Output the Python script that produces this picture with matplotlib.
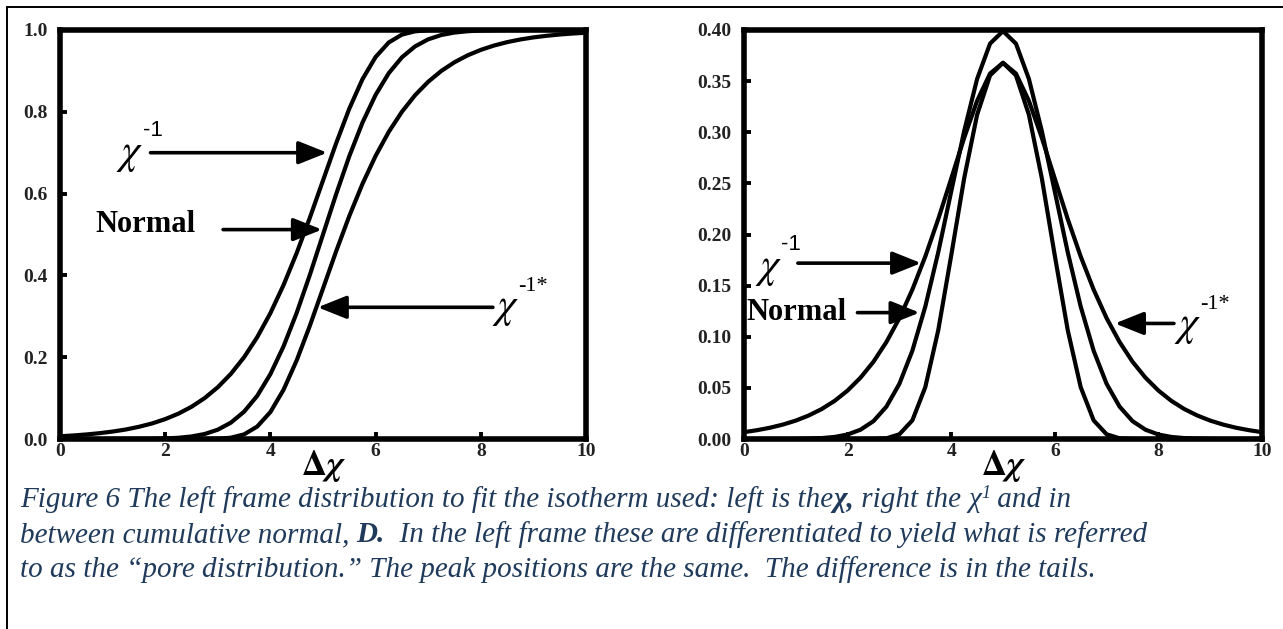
import matplotlib
matplotlib.use("Agg")
import matplotlib.pyplot as plt
from matplotlib.lines import Line2D

plt.rcParams["mathtext.fontset"] = "stix"

# ---------------- data ----------------
x_grid = [0, 0.25, 0.5, 0.75, 1, 1.25, 1.5, 1.75, 2, 2.25, 2.5, 2.75, 3, 3.25, 3.5,
          3.75, 4, 4.25, 4.5, 4.75, 5, 5.25, 5.5, 5.75, 6, 6.25, 6.5, 6.75, 7, 7.25,
          7.5, 7.75, 8, 8.25, 8.5, 8.75, 9, 9.25, 9.5, 9.75, 10]

# left frame: cumulative curves
cdf_chi_inv = [0.0067, 0.0086, 0.0111, 0.0142, 0.0182, 0.0232, 0.0298, 0.0380, 0.0486,
               0.0619, 0.0788, 0.1000, 0.1266, 0.1595, 0.2000, 0.2491, 0.3078, 0.3765,
               0.4548, 0.5410, 0.6321, 0.7231, 0.8077, 0.8796, 0.9340, 0.9695, 0.9887,
               0.9968, 0.9994, 0.9999, 1.0, 1.0, 1.0, 1.0, 1.0, 1.0, 1.0, 1.0, 1.0, 1.0, 1.0]
cdf_normal = [0.0, 0.0, 0.0, 0.0, 0.0, 0.0001, 0.0002, 0.0006, 0.0013, 0.0030, 0.0062,
              0.0122, 0.0228, 0.0401, 0.0668, 0.1056, 0.1587, 0.2266, 0.3085, 0.4013,
              0.5, 0.5987, 0.6915, 0.7734, 0.8413, 0.8944, 0.9332, 0.9599, 0.9772,
              0.9878, 0.9938, 0.9970, 0.9987, 0.9994, 0.9998, 0.9999, 1.0, 1.0, 1.0, 1.0, 1.0]
cdf_chi_inv_star = [0.0, 0.0, 0.0, 0.0, 0.0, 0.0, 0.0, 0.0, 0.0, 0.0, 0.0, 0.0001,
                    0.0006, 0.0032, 0.0113, 0.0305, 0.0660, 0.1204, 0.1923, 0.2769,
                    0.3679, 0.4590, 0.5452, 0.6236, 0.6922, 0.7509, 0.8000, 0.8405,
                    0.8734, 0.9000, 0.9212, 0.9381, 0.9514, 0.9620, 0.9703, 0.9768,
                    0.9819, 0.9858, 0.9890, 0.9914, 0.9933]

# right frame: distributions
pdf_chi_inv = [0.0067, 0.0086, 0.0110, 0.0141, 0.0180, 0.0230, 0.0293, 0.0373, 0.0474,
               0.0600, 0.0756, 0.0949, 0.1182, 0.1461, 0.1785, 0.2151, 0.2546, 0.2945,
               0.3307, 0.3574, 0.3679, 0.3556, 0.3171, 0.2549, 0.1794, 0.1064, 0.0507,
               0.0182, 0.0046, 0.0007, 0.0001, 0.0, 0.0, 0.0, 0.0, 0.0, 0.0, 0.0, 0.0, 0.0, 0.0]
pdf_normal = [0.0, 0.0, 0.0, 0.0, 0.0001, 0.0004, 0.0009, 0.0020, 0.0044, 0.0091, 0.0175,
              0.0317, 0.0540, 0.0863, 0.1295, 0.1826, 0.2420, 0.3011, 0.3521, 0.3867,
              0.3989, 0.3867, 0.3521, 0.3011, 0.2420, 0.1826, 0.1295, 0.0863, 0.0540,
              0.0317, 0.0175, 0.0091, 0.0044, 0.0020, 0.0009, 0.0004, 0.0001, 0.0, 0.0, 0.0, 0.0]
pdf_chi_inv_star = [0.0, 0.0, 0.0, 0.0, 0.0, 0.0, 0.0, 0.0, 0.0, 0.0, 0.0001, 0.0007,
                    0.0046, 0.0182, 0.0507, 0.1064, 0.1794, 0.2549, 0.3171, 0.3556,
                    0.3679, 0.3574, 0.3307, 0.2945, 0.2546, 0.2151, 0.1785, 0.1461,
                    0.1182, 0.0949, 0.0756, 0.0600, 0.0474, 0.0373, 0.0293, 0.0230,
                    0.0180, 0.0141, 0.0110, 0.0086, 0.0067]

x_ticks = [0, 2, 4, 6, 8, 10]
left_y_ticks = [0.0, 0.2, 0.4, 0.6, 0.8, 1.0]
left_y_labels = ["0.0", "0.2", "0.4", "0.6", "0.8", "1.0"]
right_y_ticks = [0.0, 0.05, 0.10, 0.15, 0.20, 0.25, 0.30, 0.35, 0.40]
right_y_labels = ["0.00", "0.05", "0.10", "0.15", "0.20", "0.25", "0.30", "0.35", "0.40"]

caption_color = "#1f3a5a"
caption_lines = [
    [("Figure 6 The left frame distribution to fit the isotherm used: left is the", "i"),
     ("χ,", "bi"), (" right the ", "i"), ("χ", "i"), ("1", "sup"), (" and in", "i")],
    [("between cumulative normal, ", "i"), ("D.", "bi"),
     ("  In the left frame these are differentiated to yield what is referred", "i")],
    [("to as the \u201cpore distribution.\u201d The peak positions are the same.  "
      "The difference is in the tails.", "i")],
]

# ---------------- figure ----------------
W, H = 1283, 629
fig = plt.figure(figsize=(W / 100, H / 100), dpi=100)
fig.patch.set_facecolor("white")

def rect(l, t, r, b):
    return [l / W, 1 - b / H, (r - l) / W, (b - t) / H]

SERIF = "Liberation Serif"
axL = fig.add_axes(rect(60, 30, 586, 439))
axR = fig.add_axes(rect(744, 30, 1262, 439))

for ax in (axL, axR):
    for s in ax.spines.values():
        s.set_linewidth(4.0)
    ax.tick_params(direction="in", length=5, width=2.8, top=False, right=False,
                   labelsize=14, pad=3)
    ax.tick_params(axis="y", pad=9)
    ax.set_xlim(0, 10)
    ax.set_xticks(x_ticks)
    ax.set_xticklabels([str(v) for v in x_ticks])
    for lab in ax.get_xticklabels() + ax.get_yticklabels():
        lab.set_fontfamily(SERIF)
        lab.set_fontweight("bold")
        lab.set_color("#222222")

LW = 3.0
for yv in (cdf_chi_inv, cdf_normal, cdf_chi_inv_star):
    axL.plot(x_grid, yv, color="black", lw=LW, solid_capstyle="round", solid_joinstyle="round")
axL.set_ylim(0, 1.0)
axL.set_yticks(left_y_ticks)
axL.set_yticklabels(left_y_labels, fontfamily=SERIF, fontweight="bold", color="#222222")

for yv in (pdf_chi_inv, pdf_normal, pdf_chi_inv_star):
    axR.plot(x_grid, yv, color="black", lw=LW, solid_capstyle="round", solid_joinstyle="round")
axR.set_ylim(0, 0.40)
axR.set_yticks(right_y_ticks)
axR.set_yticklabels(right_y_labels, fontfamily=SERIF, fontweight="bold", color="#222222")

arrow_kw = dict(arrowstyle="-|>,head_length=0.8,head_width=0.32", color="black",
                lw=2.6, mutation_scale=22, shrinkA=0, shrinkB=0)

def chi_label(ax, x, y, sup, supfont, dy):
    ax.text(x, y, r"$\chi$", fontsize=30, ha="center", va="center")
    ax.text(x + 0.24, y + dy, sup, fontsize=16, fontfamily=supfont, ha="left", va="center")

# left frame annotations
chi_label(axL, 1.33, 0.70, "-1", "Liberation Sans", 0.055)
axL.annotate("", xy=(5.08, 0.70), xytext=(1.72, 0.70), arrowprops=arrow_kw)
axL.text(0.67, 0.525, "Normal", fontsize=22, fontfamily=SERIF, fontweight="bold",
         ha="left", va="center")
axL.annotate("", xy=(4.98, 0.512), xytext=(3.10, 0.512), arrowprops=arrow_kw)
chi_label(axL, 8.47, 0.322, "-1*", SERIF, 0.05)
axL.annotate("", xy=(4.90, 0.322), xytext=(8.23, 0.322), arrowprops=arrow_kw)

# right frame annotations
chi_label(axR, 0.47, 0.168, "-1", "Liberation Sans", 0.022)
axR.annotate("", xy=(3.42, 0.172), xytext=(1.04, 0.172), arrowprops=arrow_kw)
axR.text(0.05, 0.124, "Normal", fontsize=22, fontfamily=SERIF, fontweight="bold",
         ha="left", va="center")
axR.annotate("", xy=(3.39, 0.1236), xytext=(2.19, 0.1236), arrowprops=arrow_kw)
chi_label(axR, 8.56, 0.1115, "-1*", SERIF, 0.02)
axR.annotate("", xy=(7.16, 0.113), xytext=(8.30, 0.113), arrowprops=arrow_kw)

# axis titles
for cx in ((60 + 586) / 2, (744 + 1262) / 2):
    fig.text(cx / W, 1 - 475 / H, r"$\mathbf{\Delta}\boldsymbol{\chi}$", fontsize=25,
             ha="center", va="baseline")

# outer frame lines
fig.add_artist(Line2D([7 / W, 7 / W], [0, 1 - 7 / H], transform=fig.transFigure,
                      color="black", lw=1.4))
fig.add_artist(Line2D([7 / W, 1], [1 - 7 / H, 1 - 7 / H], transform=fig.transFigure,
                      color="black", lw=1.4))

# caption (runs of text placed one after the other)
renderer = fig.canvas.get_renderer()

def style_kw(kind, size):
    kw = dict(fontfamily=SERIF, color=caption_color, fontsize=size, fontstyle="italic")
    if kind == "bi":
        kw["fontweight"] = "bold"
    if kind == "sup":
        kw["fontsize"] = size * 0.62
    return kw

def run_width(pieces, size):
    total = 0
    for txt, kind in pieces:
        t = fig.text(0, 0, txt, **style_kw(kind, size))
        total += t.get_window_extent(renderer).width
        t.remove()
    return total

base = 20
cap_size = 0.91 * base * (1262 - 20) / run_width(caption_lines[1], base)

baselines = [507, 542, 577]
for pieces, yb in zip(caption_lines, baselines):
    x = 20
    for txt, kind in pieces:
        yy = yb - (cap_size * 0.45 if kind == "sup" else 0)
        t = fig.text(x / W, 1 - yy / H, txt, ha="left", va="baseline", **style_kw(kind, cap_size))
        x += t.get_window_extent(renderer).width

fig.savefig("out.png", dpi=100)
